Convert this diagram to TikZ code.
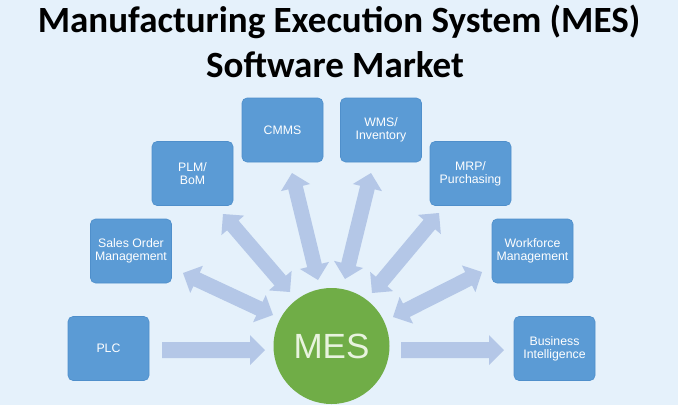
\documentclass[tikz,border=0pt]{standalone}
\usepackage{fontspec}
\setmainfont{Liberation Sans}
\newfontfamily\titlefont{Carlito}
\usetikzlibrary{calc}
\definecolor{bg}{HTML}{E5F1FB}
\definecolor{boxblue}{HTML}{5B9BD5}
\definecolor{boxedge}{HTML}{4F8FCB}
\definecolor{arrowcol}{HTML}{B4C7E7}
\definecolor{mesgreen}{HTML}{70AD47}
\definecolor{mestext}{HTML}{E8F3DE}
\newcommand\twoheadblock[2]{\fill[arrowcol] (#1) -- ($(#1)!15pt!(#2)!15pt!90:(#2)$) -- ($(#1)!15pt!(#2)!7.5pt!90:(#2)$) -- ($(#2)!15pt!(#1)!7.5pt!-90:(#1)$) -- ($(#2)!15pt!(#1)!15pt!-90:(#1)$) -- (#2) -- ($(#2)!15pt!(#1)!15pt!90:(#1)$) -- ($(#2)!15pt!(#1)!7.5pt!90:(#1)$) -- ($(#1)!15pt!(#2)!7.5pt!-90:(#2)$) -- ($(#1)!15pt!(#2)!15pt!-90:(#2)$) -- cycle;}
\newcommand\oneheadblock[2]{\fill[arrowcol] ($(#1)!8pt!90:(#2)$) -- ($(#2)!15pt!(#1)!8pt!-90:(#1)$) -- ($(#2)!15pt!(#1)!15pt!-90:(#1)$) -- (#2) -- ($(#2)!15pt!(#1)!15pt!90:(#1)$) -- ($(#2)!15pt!(#1)!8pt!90:(#1)$) -- ($(#1)!8pt!-90:(#2)$) -- cycle;}
\begin{document}
\begin{tikzpicture}[x=1pt,y=-1pt,
  box/.style={rectangle, rounded corners=5pt, fill=boxblue, draw=boxedge, line width=0.6pt,
    minimum width=81pt, minimum height=64pt, inner sep=0pt, text=white, align=center,
    font=\fontsize{12.3}{13}\selectfont},
  titletext/.style={font=\titlefont\bfseries\fontsize{37}{40}\selectfont, anchor=base, inner sep=0pt},
  hub/.style={circle, fill=mesgreen, minimum size=116pt, inner sep=0pt, text=mestext,
    font=\fontsize{35}{40}\selectfont}]
\fill[bg] (0,0) rectangle (678,405);
\useasboundingbox (0,0) rectangle (678,405);

\node[titletext] (t1) at (339,32) {Manufacturing Execution System (MES)};
\node[titletext] (t2) at (335,77) {Software Market};

\node[hub] (mes) at (331.5,346) {MES};

\node[box] (cmms) at (282.5,130) {CMMS};
\node[box] (plm) at (192.5,173.5) {PLM/\\BoM};
\node[box] (so) at (131,251) {Sales Order\\Management};
\node[box] (plc) at (108.5,348.5) {PLC};
\node[box] (wms) at (381,130) {WMS/\\Inventory};
\node[box] (mrp) at (470.5,173.5) {MRP/\\Purchasing};
\node[box] (wf) at (532.5,251) {Workforce\\Management};
\node[box] (bi) at (554.5,348.5) {Business\\Intelligence};

\coordinate (so-o) at (183,273);  \coordinate (so-i) at (273,315);
\coordinate (plm-o) at (223,214); \coordinate (plm-i) at (290,292);
\coordinate (cmms-o) at (292,173); \coordinate (cmms-i) at (318,280);
\coordinate (wms-o) at (371,173); \coordinate (wms-i) at (345,279);
\coordinate (mrp-o) at (439,213); \coordinate (mrp-i) at (372,293);
\coordinate (wf-o) at (482,272); \coordinate (wf-i) at (393,317);
\coordinate (plc-o) at (162,350); \coordinate (plc-i) at (265,350);
\coordinate (bi-i) at (401,350); \coordinate (bi-o) at (504,350);

\twoheadblock{so-o}{so-i}
\twoheadblock{plm-o}{plm-i}
\twoheadblock{cmms-o}{cmms-i}
\twoheadblock{wms-o}{wms-i}
\twoheadblock{mrp-o}{mrp-i}
\twoheadblock{wf-o}{wf-i}
\oneheadblock{plc-o}{plc-i}
\oneheadblock{bi-i}{bi-o}
\end{tikzpicture}
\end{document}
